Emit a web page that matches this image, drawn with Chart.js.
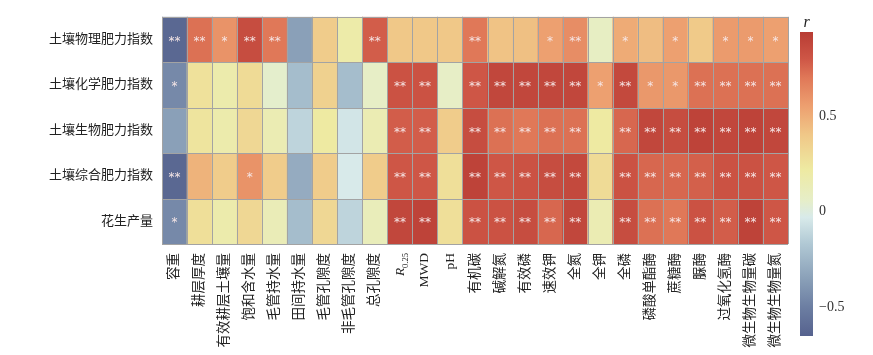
<!DOCTYPE html>
<html><head><meta charset="utf-8">
<script src="https://cdn.jsdelivr.net/npm/chart.js@4"></script>
<style>
html,body{margin:0;padding:0;background:#fff;}
#wrap{position:relative;width:873px;height:355px;}
#main{position:absolute;left:0;top:0;}
#cb{position:absolute;left:790px;top:0;}
</style></head>
<body><div id="wrap"><canvas id="main" width="873" height="355"></canvas><canvas id="cb" width="83" height="355"></canvas></div>
<script>
const columns = ['容重','耕层厚度','有效耕层土壤量','饱和含水量','毛管持水量','田间持水量','毛管孔隙度','非毛管孔隙度','总孔隙度','R0.25','MWD','pH','有机碳','碱解氮','有效磷','速效钾','全氮','全钾','全磷','磷酸单酯酶','蔗糖酶','脲酶','过氧化氢酶','微生物生物量碳','微生物生物量氮'];
const rows = ['土壤物理肥力指数','土壤化学肥力指数','土壤生物肥力指数','土壤综合肥力指数','花生产量'];

const physical = [-0.62,0.72,0.60,0.85,0.70,-0.35,0.38,0.19,0.78,0.40,0.40,0.40,0.70,0.42,0.43,0.55,0.62,0.08,0.51,0.44,0.55,0.39,0.57,0.57,0.55];
const chemical = [-0.45,0.27,0.18,0.30,0.05,-0.22,0.35,-0.22,0.07,0.82,0.82,0.07,0.80,0.88,0.88,0.88,0.88,0.55,0.87,0.58,0.58,0.72,0.72,0.72,0.72];
const biological = [-0.35,0.25,0.18,0.32,0.15,-0.12,0.22,-0.05,0.15,0.78,0.78,0.38,0.85,0.72,0.70,0.72,0.72,0.22,0.75,0.88,0.85,0.90,0.88,0.90,0.88];
const integrated = [-0.62,0.48,0.38,0.60,0.38,-0.30,0.38,-0.03,0.38,0.80,0.80,0.28,0.90,0.80,0.82,0.85,0.87,0.30,0.82,0.75,0.75,0.77,0.82,0.82,0.80];
const peanutYield = [-0.45,0.28,0.18,0.32,0.13,-0.22,0.32,-0.12,0.12,0.88,0.90,0.28,0.82,0.82,0.85,0.75,0.88,0.15,0.85,0.72,0.70,0.82,0.78,0.90,0.80];

const sigPhysical = ['**','**','*','**','**','','','','**','','','','**','','','*','**','','*','','*','','*','*','*'];
const sigChemical = ['*','','','','','','','','','**','**','','**','**','**','**','**','*','**','*','*','**','**','**','**'];
const sigBiological = ['','','','','','','','','','**','**','','**','**','**','**','**','','**','**','**','**','**','**','**'];
const sigIntegrated = ['**','','','*','','','','','','**','**','','**','**','**','**','**','','**','**','**','**','**','**','**'];
const sigYield = ['*','','','','','','','','','**','**','','**','**','**','**','**','','**','**','**','**','**','**','**'];

const cbMin = -0.65, cbMax = 0.94;
const cbTicks = [-0.5, 0, 0.5];

const valueRows = [physical, chemical, biological, integrated, peanutYield];
const sigRows = [sigPhysical, sigChemical, sigBiological, sigIntegrated, sigYield];

const stops = [
  [-0.65,[86,98,142]],
  [-0.5,[108,126,162]],
  [-0.35,[138,160,184]],
  [-0.17,[176,200,212]],
  [-0.03,[216,234,234]],
  [0.06,[230,238,200]],
  [0.22,[238,234,162]],
  [0.40,[240,200,136]],
  [0.55,[237,160,112]],
  [0.70,[224,120,88]],
  [0.80,[206,86,70]],
  [0.94,[184,60,52]]
];
function colorFor(v){
  if (v <= stops[0][0]) return 'rgb('+stops[0][1].join(',')+')';
  for (let i=1;i<stops.length;i++){
    if (v <= stops[i][0]){
      const a=stops[i-1], b=stops[i];
      const t=(v-a[0])/(b[0]-a[0]);
      const c=a[1].map((x,k)=>Math.round(x+(b[1][k]-x)*t));
      return 'rgb('+c.join(',')+')';
    }
  }
  return 'rgb('+stops[stops.length-1][1].join(',')+')';
}

const FONT = "'Liberation Serif','Noto Sans CJK SC',serif";
const RIDX = columns.indexOf('R0.25');

const overlay = {
  id:'overlay',
  afterDatasetsDraw(chart){
    const ctx=chart.ctx, xs=chart.scales.x, ys=chart.scales.y, ca=chart.chartArea;
    ctx.save();
    ctx.strokeStyle='#a3a3a3'; ctx.lineWidth=1;
    ctx.beginPath();
    for (let k=0;k<=columns.length;k++){
      let x;
      if (k===0) x=ca.left; else if (k===columns.length) x=ca.right;
      else x=(xs.getPixelForTick(k-1)+xs.getPixelForTick(k))/2;
      x=Math.round(x)+0.5;
      ctx.moveTo(x,ca.top); ctx.lineTo(x,ca.bottom);
    }
    for (let i=0;i<=rows.length;i++){
      const y=Math.round(ys.getPixelForValue(i))+0.5;
      ctx.moveTo(ca.left,y); ctx.lineTo(ca.right,y);
    }
    ctx.stroke();
    ctx.fillStyle='#f6e6e6';
    ctx.font="12px 'DejaVu Sans'";
    ctx.textAlign='center'; ctx.textBaseline='middle';
    chart.data.datasets.forEach((ds,i)=>{
      const meta=chart.getDatasetMeta(i);
      meta.data.forEach((el,j)=>{
        const s=sigRows[i][j];
        if(!s) return;
        const yc=(el.y+el.base)/2+2;
        ctx.fillText(s, el.x, yc);
      });
    });
    ctx.restore();
  },
  afterDraw(chart){
    const ctx=chart.ctx, xs=chart.scales.x, ca=chart.chartArea;
    const x=xs.getPixelForTick(RIDX);
    const y0=ca.bottom+9;
    ctx.save();
    ctx.translate(x,y0);
    ctx.rotate(-Math.PI/2);
    ctx.fillStyle='#222';
    ctx.textBaseline='alphabetic'; ctx.textAlign='left';
    ctx.font="italic 13.5px 'Liberation Serif'";
    const wR=ctx.measureText('R').width;
    ctx.font="8.5px 'Liberation Serif'";
    const wS=ctx.measureText('0.25').width;
    ctx.font="italic 13.5px 'Liberation Serif'";
    ctx.fillText('R',-(wR+wS),4.5);
    ctx.font="8.5px 'Liberation Serif'";
    ctx.fillText('0.25',-wS,8);
    ctx.restore();
  }
};

new Chart(document.getElementById('main'),{
  type:'bar',
  data:{
    labels:columns,
    datasets:valueRows.map((vals,i)=>({
      data:vals.map(()=>[i,i+1]),
      backgroundColor:vals.map(colorFor),
      borderWidth:0,
      grouped:false,
      barPercentage:1,
      categoryPercentage:1
    }))
  },
  options:{
    responsive:false, animation:false,
    layout:{padding:{top:11,right:85,left:0,bottom:0}},
    plugins:{legend:{display:false},tooltip:{enabled:false}},
    scales:{
      x:{
        grid:{display:false,drawTicks:false}, border:{display:false},
        ticks:{minRotation:90,maxRotation:90,autoSkip:false,padding:9,color:'#222',
          font:{family:FONT,size:13.5},
          callback:(v,i)=> i===RIDX ? '' : columns[i]},
        afterFit:(s)=>{s.height=111;}
      },
      y:{
        type:'linear', min:0, max:rows.length, reverse:true,
        grid:{display:false,drawTicks:false}, border:{display:false},
        afterBuildTicks:(s)=>{s.ticks=rows.map((r,i)=>({value:i+0.5}));},
        ticks:{padding:9,color:'#222',font:{family:FONT,size:13},
          callback:(v,i)=>rows[i]},
        afterFit:(s)=>{s.width=162;}
      }
    }
  },
  plugins:[overlay]
});

const cbLabel = {
  id:'cbLabel',
  afterDraw(chart){
    const ctx=chart.ctx, ca=chart.chartArea;
    ctx.save();
    ctx.fillStyle='#222';
    ctx.font="italic 16px 'Liberation Serif'";
    ctx.textAlign='center'; ctx.textBaseline='alphabetic';
    ctx.fillText('r',(ca.left+ca.right)/2,27);
    ctx.restore();
  }
};

new Chart(document.getElementById('cb'),{
  type:'bar',
  data:{labels:[''],datasets:[{
    data:[[cbMin,cbMax]],
    barPercentage:1, categoryPercentage:1, borderWidth:0,
    backgroundColor:(c)=>{
      const ch=c.chart; const ys=ch.scales.y;
      if(!ch.chartArea||!ys) return '#ccc';
      const yTop=ys.getPixelForValue(cbMax), yBot=ys.getPixelForValue(cbMin);
      const g=ch.ctx.createLinearGradient(0,yTop,0,yBot);
      stops.forEach(s=>{
        const f=(cbMax-s[0])/(cbMax-cbMin);
        g.addColorStop(Math.min(1,Math.max(0,f)),'rgb('+s[1].join(',')+')');
      });
      return g;
    }
  }]},
  options:{
    responsive:false, animation:false,
    layout:{padding:{top:32,bottom:19,left:10,right:0}},
    plugins:{legend:{display:false},tooltip:{enabled:false}},
    scales:{
      x:{display:false},
      y:{
        position:'right', min:cbMin, max:cbMax,
        grid:{display:false,drawTicks:false}, border:{display:false},
        afterBuildTicks:(s)=>{s.ticks=cbTicks.map(v=>({value:v}));},
        ticks:{padding:6,color:'#333',font:{family:"'Liberation Serif'",size:14},
          callback:(v)=> v<0 ? '\u2212'+Math.abs(v) : String(v)},
        afterFit:(s)=>{s.width=60;}
      }
    }
  },
  plugins:[cbLabel]
});
</script>
</body></html>
